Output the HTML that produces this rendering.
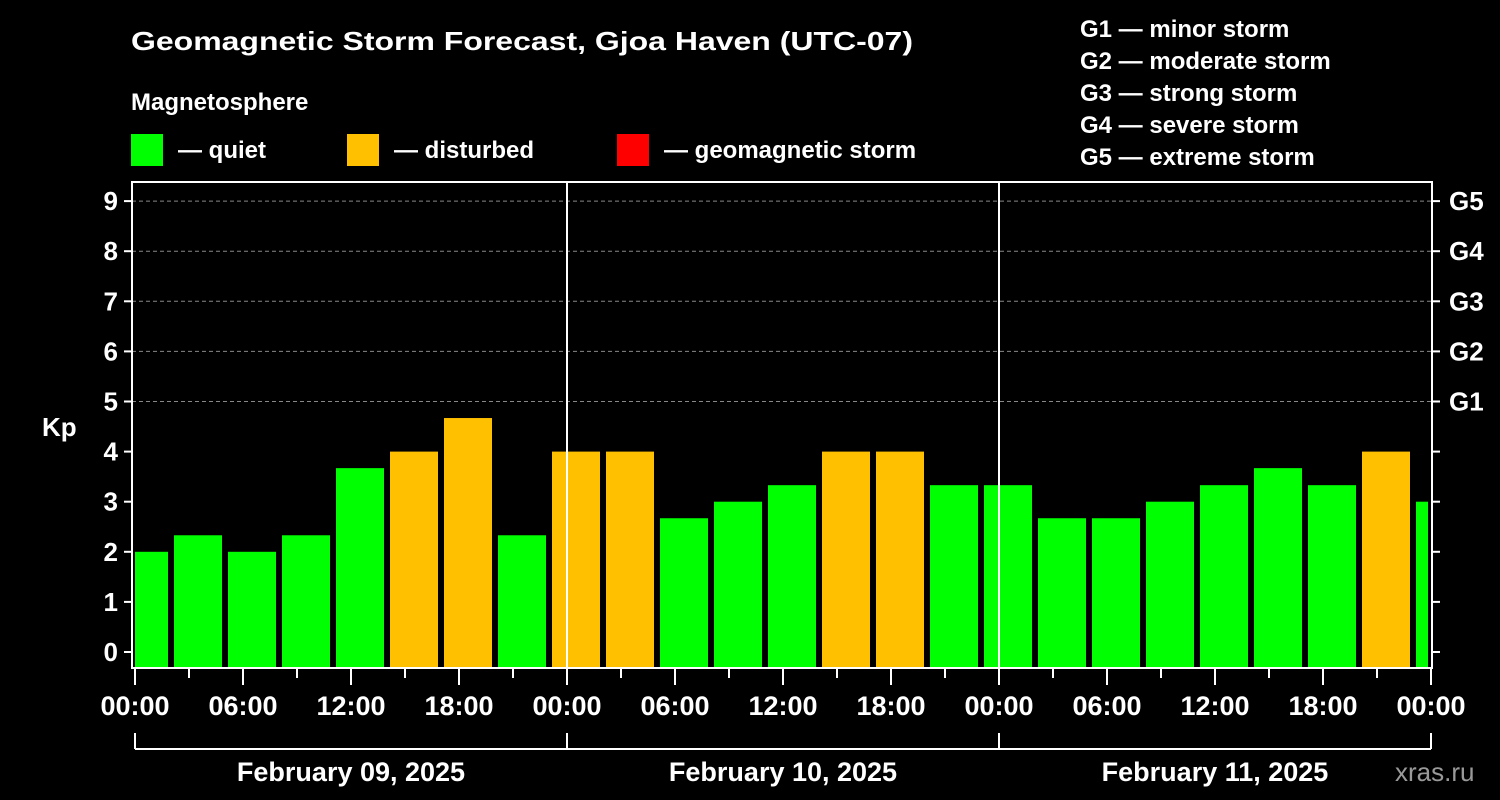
<!DOCTYPE html>
<html><head><meta charset="utf-8"><style>html,body{margin:0;background:#000;}svg{display:block;font-family:"Liberation Sans",sans-serif;font-weight:bold;}</style></head>
<body>
<svg id="chart" width="1500" height="800" viewBox="0 0 1500 800" xmlns="http://www.w3.org/2000/svg">
<rect width="1500" height="800" fill="#000"/>
<text x="131" y="50" fill="#fff" font-size="26" textLength="782" lengthAdjust="spacingAndGlyphs">Geomagnetic Storm Forecast, Gjoa Haven (UTC-07)</text>
<text x="131" y="110" fill="#fff" font-size="24">Magnetosphere</text>
<g><rect x="131" y="134" width="32" height="32" fill="#00ff00"/><text x="178" y="158" fill="#fff" font-size="24">— quiet</text></g>
<g><rect x="347" y="134" width="32" height="32" fill="#ffc000"/><text x="394" y="158" fill="#fff" font-size="24">— disturbed</text></g>
<g><rect x="617" y="134" width="32" height="32" fill="#ff0000"/><text x="664" y="158" fill="#fff" font-size="24">— geomagnetic storm</text></g>
<g fill="#fff" font-size="24">
<text x="1080" y="37">G1 — minor storm</text><text x="1080" y="69">G2 — moderate storm</text><text x="1080" y="101">G3 — strong storm</text><text x="1080" y="133">G4 — severe storm</text><text x="1080" y="165">G5 — extreme storm</text>
</g>
<text x="42" y="436" fill="#fff" font-size="26">Kp</text>
<g id="grid"></g><g id="bars"></g><g id="axes"></g>
<text x="1395" y="781" fill="#fff" font-size="26" font-weight="normal" opacity="0.6">xras.ru</text>
</svg>
<script>
const kpValues=[2.0,2.33,2.0,2.33,3.67,4.0,4.67,2.33,4.0,4.0,2.67,3.0,3.33,4.0,4.0,3.33,3.33,2.67,2.67,3.0,3.33,3.67,3.33,4.0,3.0];
const binStartHours=[-1,2,5,8,11,14,17,20,23,26,29,32,35,38,41,44,47,50,53,56,59,62,65,68,71];
const dayLabels=["February 09, 2025","February 10, 2025","February 11, 2025"];
const timeLabels=["00:00","06:00","12:00","18:00","00:00","06:00","12:00","18:00","00:00","06:00","12:00","18:00","00:00"];
const gLabels=["G1","G2","G3","G4","G5"];
const NS="http://www.w3.org/2000/svg";
const X0=135,PXH=18,Y0=652,PXK=50.1,PL=132,PR=1432,PT=182,PB=668;
const xs=h=>X0+h*PXH, ys=k=>Y0-k*PXK;
function mk(tag,attrs,parent){const e=document.createElementNS(NS,tag);for(const k in attrs)e.setAttribute(k,attrs[k]);parent.appendChild(e);return e;}
const grid=document.getElementById('grid'),bars=document.getElementById('bars'),axes=document.getElementById('axes');
for(let k=5;k<=9;k++){const l=mk('line',{x1:PL,x2:PR,y1:ys(k),y2:ys(k),stroke:'#888','stroke-dasharray':'4,3','stroke-width':1},grid);

}
kpValues.forEach((v,i)=>{
 const a=Math.max(xs(binStartHours[i])+3,X0),b=Math.min(xs(binStartHours[i]+3)-3,PR-4);
 const c=v>=5?'#ff0000':(v>=4?'#ffc000':'#00ff00');
 const r=mk('rect',{x:a,y:ys(v),width:b-a,height:PB-ys(v),fill:c},bars);
 
 
});
for(let d=1;d<3;d++){const l=mk('line',{x1:xs(24*d),x2:xs(24*d),y1:PT,y2:PB,stroke:'#fff','stroke-width':2},axes);

}
const f=mk('rect',{x:PL,y:PT,width:PR-PL,height:PB-PT,fill:'none',stroke:'#fff','stroke-width':2},axes);


for(let k=0;k<=9;k++){
 mk('line',{x1:PL-8,x2:PL,y1:ys(k),y2:ys(k),stroke:'#fff','stroke-width':2},axes);
 mk('line',{x1:PR,x2:PR+8,y1:ys(k),y2:ys(k),stroke:'#fff','stroke-width':2},axes);
 const t=mk('text',{x:PL-14,y:ys(k)+9,fill:'#fff','font-size':26,'text-anchor':'end'},axes);t.textContent=k;
 
 
}
gLabels.forEach((g,i)=>{const t=mk('text',{x:PR+17,y:ys(i+5)+9,fill:'#fff','font-size':26},axes);t.textContent=g;

});
for(let h=0;h<=72;h+=3){mk('line',{x1:xs(h),x2:xs(h),y1:PB,y2:PB+(h%6==0?17:10),stroke:'#fff','stroke-width':2},axes);}
timeLabels.forEach((s,i)=>{const t=mk('text',{x:xs(i*6),y:715,fill:'#fff','font-size':27,'text-anchor':'middle'},axes);t.textContent=s;

});
mk('line',{x1:xs(0),x2:xs(72),y1:749,y2:749,stroke:'#fff','stroke-width':2},axes);
for(let d=0;d<=3;d++)mk('line',{x1:xs(24*d),x2:xs(24*d),y1:733,y2:749,stroke:'#fff','stroke-width':2},axes);
dayLabels.forEach((s,i)=>{const t=mk('text',{x:xs(24*i+12),y:781,fill:'#fff','font-size':27,'text-anchor':'middle'},axes);t.textContent=s;

});
</script>
</body></html>
